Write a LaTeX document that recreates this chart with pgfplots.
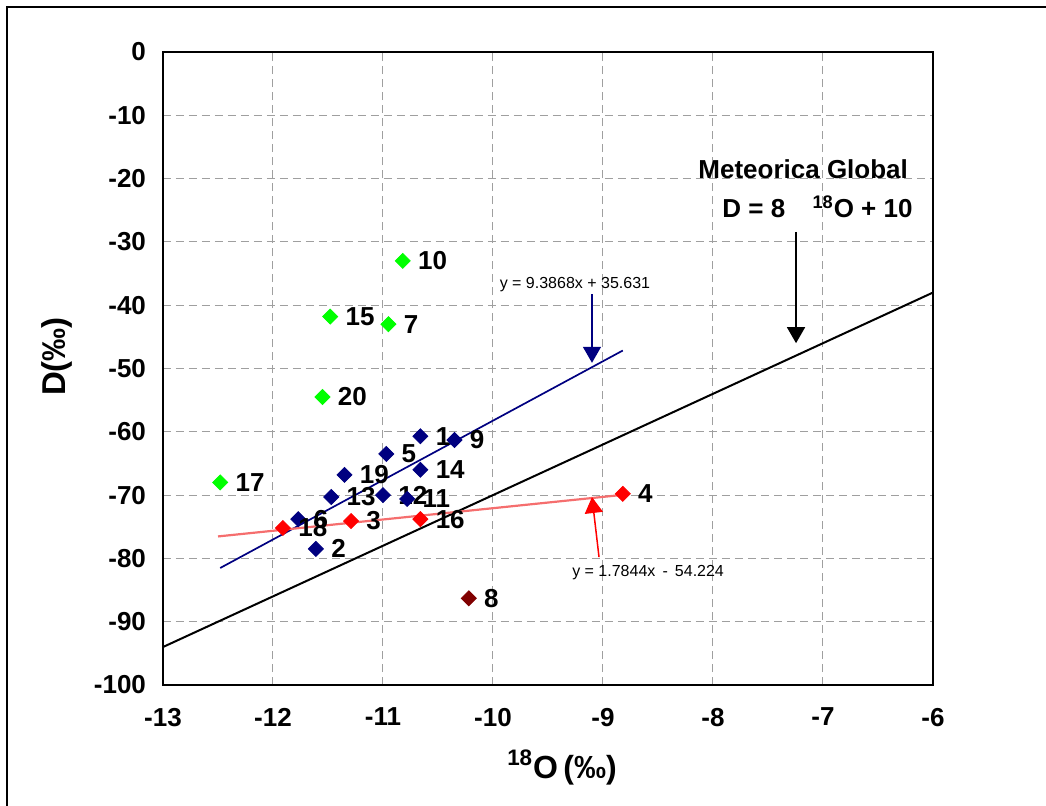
\documentclass[border=0pt]{standalone}
\usepackage{pgfplots}
\pgfplotsset{compat=1.18}
\usepackage{pgfplotstable}
\usepackage{fontspec}
\setmainfont{Liberation Sans}
\usetikzlibrary{arrows.meta}

\definecolor{lime}{RGB}{0,255,0}
\definecolor{navyb}{RGB}{0,0,128}
\definecolor{redp}{RGB}{255,0,0}
\definecolor{darkredp}{RGB}{128,0,0}
\definecolor{pinkline}{RGB}{245,110,110}

\pgfplotstableread{
x y lab
-10.82 -33.0 10
-11.48 -41.8 15
-10.95 -43.0 7
-11.55 -54.5 20
-12.48 -68.0 17
}\greenpts

\pgfplotstableread{
x y lab
-10.66 -60.7 1
-10.35 -61.3 9
-10.97 -63.5 5
-10.66 -66.0 14
-11.35 -66.8 19
-11.47 -70.3 13
-11.00 -70.0 12
-10.78 -70.6 11
-11.77 -73.8 6
-11.61 -78.5 2
}\navypts

\pgfplotstableread{
x y lab
-11.91 -75.2 18
-11.29 -74.1 3
-10.66 -73.8 16
-8.82 -69.8 4
}\redpts

\pgfplotstableread{
x y lab
-10.22 -86.3 8
}\darkpts

\begin{document}
\begin{tikzpicture}
\path[use as bounding box] (-81.5pt,-60pt) rectangle (441.5pt,342.5pt);
\draw[line width=0.75pt] (-78pt,-70pt) -- (-78pt,339pt) -- (450pt,339pt);
\begin{axis}[
  scale only axis, width=385pt, height=316.5pt,
  xmin=-13, xmax=-6, ymin=-100, ymax=0,
  xtick={-13,-12,...,-6}, ytick={-100,-90,...,0},
  grid=major,
  major grid style={gray!75, dash pattern=on 4pt off 2.5pt, line width=0.5pt},
  axis line style={line width=0.75pt},
  tick style={draw=none},
  /pgf/number format/assume math mode=true,
  ticklabel style={font=\fontsize{13}{13}\selectfont\bfseries},
  yticklabel style={xshift=-5pt},
  xticklabel style={yshift=-8pt},
  xlabel={\textsuperscript{18}O\,(‰)},
  ylabel={D(‰)},
  xlabel style={font=\fontsize{16}{16}\selectfont\bfseries, yshift=-5pt, xshift=7pt},
  ylabel style={font=\fontsize{16.5}{16.5}\selectfont\bfseries, yshift=4pt, xshift=6pt},
  clip=false,
  nodes near coords style={font=\fontsize{13}{13}\selectfont\bfseries, anchor=west, inner sep=0pt, xshift=7.5pt, text=black},
]
% lines
\addplot[black, line width=1pt] coordinates {(-13,-94) (-6,-38)};
\addplot[navyb, line width=0.85pt] coordinates {(-12.48,-81.516) (-8.82,-47.161)};
\addplot[pinkline, line width=1.1pt] coordinates {(-12.5,-76.529) (-8.82,-69.962)};
% points
\addplot[only marks, mark=square*, mark size=2.65pt, mark options={rotate=45, fill=lime, draw=lime},
  nodes near coords, point meta=explicit symbolic] table[x=x, y=y, meta=lab] {\greenpts};
\addplot[only marks, mark=square*, mark size=2.65pt, mark options={rotate=45, fill=navyb, draw=navyb},
  nodes near coords, point meta=explicit symbolic] table[x=x, y=y, meta=lab] {\navypts};
\addplot[only marks, mark=square*, mark size=2.65pt, mark options={rotate=45, fill=redp, draw=redp},
  nodes near coords, point meta=explicit symbolic] table[x=x, y=y, meta=lab] {\redpts};
\addplot[only marks, mark=square*, mark size=2.65pt, mark options={rotate=45, fill=darkredp, draw=darkredp},
  nodes near coords, point meta=explicit symbolic] table[x=x, y=y, meta=lab] {\darkpts};
% annotations
\node[font=\fontsize{8}{8}\selectfont, inner sep=0pt] at (axis cs:-9.255,-36.8) {y = 9.3868x + 35.631};
\draw[navyb, line width=0.75pt, -{Triangle[width=9pt,length=8pt]}] (axis cs:-9.1,-38.3) -- (axis cs:-9.1,-49.1);
\node[font=\fontsize{8}{8}\selectfont, inner sep=0pt] at (axis cs:-8.59,-82.3) {y = 1.7844x \,-\, 54.224};
\draw[redp, line width=0.75pt, -{Triangle[width=9pt,length=8pt]}] (axis cs:-9.036,-79.8) -- (axis cs:-9.1,-70.3);
\node[font=\fontsize{13}{13}\selectfont\bfseries, inner sep=0pt] at (axis cs:-7.18,-18.5) {Meteorica Global};
\node[font=\fontsize{13}{13}\selectfont\bfseries, inner sep=0pt] at (axis cs:-7.05,-24.5) {D = 8 \hspace{10pt}\textsuperscript{18}O + 10};
\draw[black, line width=0.75pt, -{Triangle[width=9pt,length=8pt]}] (axis cs:-7.245,-28.4) -- (axis cs:-7.245,-46.0);
\end{axis}
\end{tikzpicture}
\end{document}
